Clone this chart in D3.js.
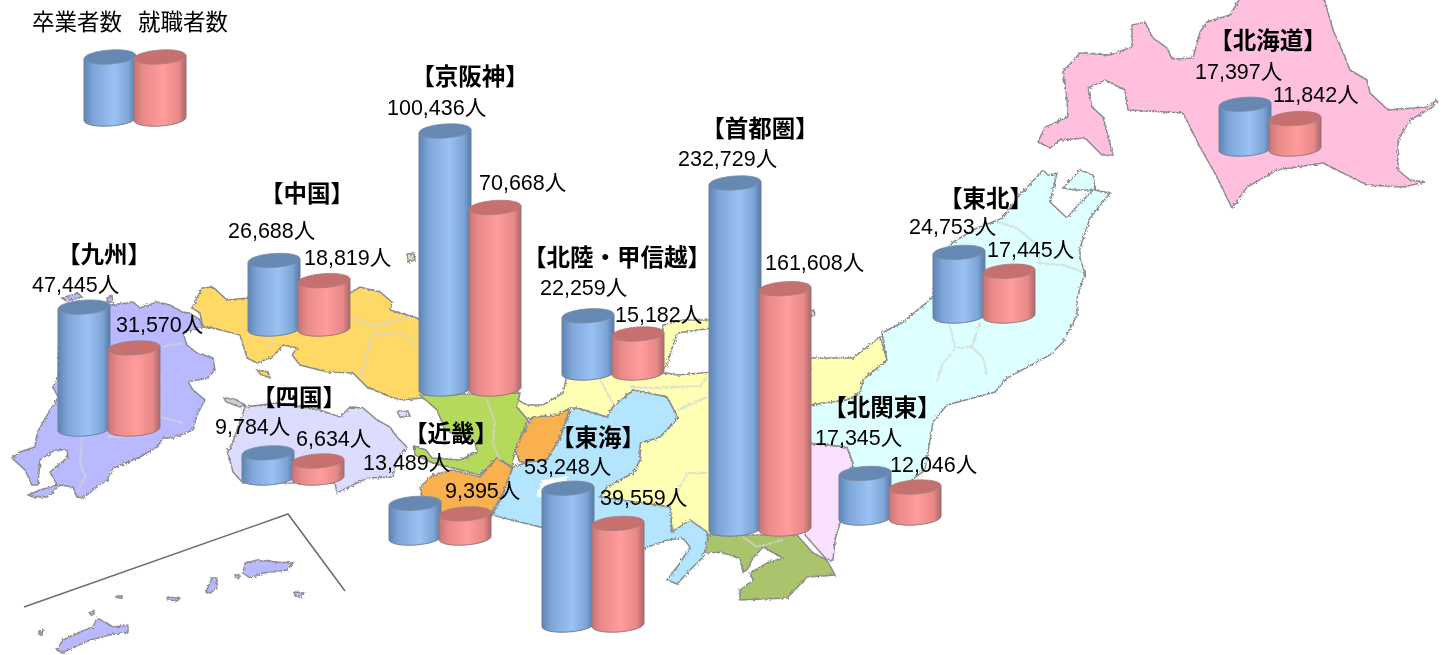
<!DOCTYPE html>
<html>
<head>
<meta charset="utf-8">
<script src="https://cdn.jsdelivr.net/npm/d3@7"></script>
<style>
  html, body { margin: 0; background: #fff; }
  text { font-family: "Noto Sans CJK JP", "Noto Sans", sans-serif; fill: #000; }
  text.num { font-family: "Liberation Sans", "Noto Sans CJK JP", sans-serif; }
</style>
</head>
<body>
<svg id="chart" width="1448" height="655"></svg>
<script>
// values
let regions = ['九州', '中国', '京阪神', '北陸・甲信越', '首都圏', '東海', '近畿', '四国', '北関東', '東北', '北海道']
let graduates = [47445, 26688, 100436, 22259, 232729, 53248, 13489, 9784, 17345, 24753, 17397]
let employed = [31570, 18819, 70668, 15182, 161608, 39559, 9395, 6634, 12046, 17445, 11842]
let seriesNames = ['卒業者数', '就職者数']

// layout, same order as regions: left edge and floor of each pair of cylinders
let pairX = [58, 248, 419, 562, 709, 542, 389, 242, 839, 933, 1219]
let pairFloor = [429, 329, 389, 373, 529, 625, 538, 478, 518, 316, 149]
let titleAt = [[104, 263], [307, 202], [470, 85], [617, 266], [760, 137], [598, 446], [451, 442], [299, 406], [882, 416], [986, 207], [1268, 49]]
let gradAt = [[32, 292], [228, 238], [387, 115], [540, 295], [678, 166], [524, 474], [363, 470], [215, 434], [815, 445], [909, 234], [1195, 79]]
let emplAt = [[116, 332], [304, 265], [479, 190], [615, 322], [765, 270], [600, 505], [445, 498], [296, 446], [890, 472], [987, 257], [1273, 102]]

// base map, hand traced
let land = [
  { fill: '#b9b9ff', pts: [[60,310],[110,305],[127,303],[133,302],[140,308],[157,302],[170,305],[182,312],[190,313],[200,320],[202,328],[183,333],[187,345],[197,353],[213,358],[215,370],[207,378],[188,382],[193,390],[205,400],[197,415],[193,430],[173,438],[163,438],[157,447],[140,457],[113,468],[107,480],[97,487],[83,498],[77,497],[73,487],[60,485],[47,497],[33,497],[28,495],[40,490],[57,485],[50,472],[68,457],[67,450],[55,450],[40,460],[38,485],[32,485],[25,470],[12,458],[20,452],[35,447],[37,433],[50,410],[55,403],[58,397],[53,387],[58,377]] },
  { fill: '#b9b9ff', pts: [[62,298],[78,293],[82,297],[67,301]] },
  { fill: '#b9b9ff', pts: [[107,298],[112,296],[113,302],[108,302]] },
  { fill: '#ffd966', pts: [[192,308],[202,288],[213,287],[227,300],[248,298],[350,293],[360,287],[380,292],[392,302],[390,310],[417,318],[430,330],[430,397],[403,400],[393,398],[367,387],[353,373],[327,372],[300,365],[292,355],[297,348],[283,345],[272,357],[257,363],[247,358],[243,345],[240,335],[213,328],[203,327],[200,313]] },
  { fill: '#ffd966', pts: [[257,370],[268,372],[270,378],[260,374]] },
  { fill: '#dcdcff', pts: [[230,450],[245,407],[277,403],[320,410],[340,417],[350,407],[363,408],[377,420],[390,427],[397,437],[407,447],[397,460],[393,477],[367,478],[343,490],[337,493],[335,483],[293,483],[243,483],[233,472],[227,450]] },
  { fill: '#dcdcff', pts: [[397,411],[408,411],[410,416],[400,417]] },
  { fill: '#cfcfcf', pts: [[224,398],[235,399],[245,405],[240,407],[226,402]] },
  { fill: '#d8d8c0', pts: [[407,254],[414,253],[415,260],[408,262]] },
  { fill: '#d8d8c0', pts: [[810,311],[814,310],[815,315],[811,316]] },
  { fill: '#b5d95a', pts: [[420,395],[520,393],[517,407],[528,420],[515,450],[512,467],[497,458],[480,475],[453,468],[433,463],[415,455],[414,446],[426,450],[432,458],[460,460],[477,452],[475,442],[445,430],[437,410]] },
  { fill: '#f9b04f', pts: [[420,487],[433,475],[453,470],[480,477],[497,458],[512,468],[503,493],[493,510],[490,520],[440,530],[425,510]] },
  { fill: '#f9b04f', pts: [[515,450],[523,433],[533,417],[557,415],[570,408],[560,437],[547,460],[520,462]] },
  { fill: '#ffffb3', pts: [[518,400],[527,405],[543,405],[563,393],[567,375],[667,373],[677,375],[712,372],[712,535],[672,532],[670,507],[600,497],[607,487],[633,473],[640,460],[640,443],[660,437],[678,418],[667,397],[633,390],[613,407],[607,417],[577,408],[570,408],[557,415],[533,417],[528,420],[517,407]] },
  { fill: '#ffffb3', pts: [[663,325],[683,320],[712,320],[712,328],[678,333],[673,345],[667,365],[660,372]] },
  { fill: '#b3e5ff', pts: [[492,515],[503,495],[513,467],[528,462],[547,460],[560,438],[570,412],[577,408],[607,417],[613,407],[633,390],[667,397],[678,418],[660,437],[640,443],[640,460],[633,473],[607,487],[600,497],[670,507],[672,532],[690,520],[707,532],[708,540],[703,557],[690,570],[677,584],[667,580],[680,563],[690,547],[683,538],[667,540],[645,548],[560,530],[540,527]] },
  { fill: '#ffffff', pts: [[536,497],[543,480],[568,476],[562,490],[545,498]] },
  { fill: '#ffffb3', pts: [[810,358],[853,358],[880,337],[887,360],[863,380],[860,393],[847,400],[810,405]] },
  { fill: '#f9e0ff', pts: [[805,443],[847,447],[853,463],[840,523],[835,540],[833,560],[827,560],[805,535]] },
  { fill: '#a9c46c', pts: [[708,535],[797,535],[813,553],[827,560],[835,575],[807,577],[793,592],[787,598],[740,600],[740,590],[753,580],[750,573],[767,563],[783,558],[763,547],[753,558],[747,570],[743,572],[740,558],[720,552],[705,553]] },
  { fill: '#ddffff', pts: [[1017,198],[1043,170],[1048,175],[1057,173],[1050,202],[1067,218],[1078,205],[1093,190],[1075,190],[1063,188],[1080,170],[1093,175],[1095,190],[1110,193],[1090,218],[1080,248],[1080,258],[1085,273],[1077,298],[1077,315],[1063,342],[1050,355],[1007,378],[995,392],[973,398],[947,405],[933,422],[925,470],[905,485],[888,492],[855,480],[853,463],[847,447],[808,443],[810,405],[847,400],[860,393],[863,380],[887,360],[882,333],[903,322],[932,298],[940,260],[953,242],[977,228],[1003,218]] },
  { fill: '#ffc0e0', pts: [[1038,142],[1045,127],[1068,117],[1067,100],[1063,72],[1080,53],[1110,55],[1132,47],[1132,25],[1145,22],[1153,38],[1167,48],[1172,59],[1193,58],[1200,32],[1207,22],[1230,15],[1242,-5],[1323,-5],[1333,30],[1345,57],[1350,70],[1367,80],[1370,93],[1388,110],[1427,107],[1437,100],[1433,107],[1410,120],[1398,140],[1398,170],[1410,180],[1425,182],[1403,187],[1367,185],[1323,163],[1277,170],[1247,187],[1232,208],[1217,177],[1200,147],[1183,113],[1128,110],[1125,90],[1105,80],[1088,88],[1092,107],[1103,117],[1113,155],[1102,155],[1085,138],[1060,140],[1050,148]] },
  // 沖縄・奄美
  { fill: '#b9b9ff', pts: [[245,563],[257,560],[277,562],[293,563],[287,570],[263,573],[250,578],[243,573]] },
  { fill: '#b9b9ff', pts: [[212,578],[217,578],[217,588],[210,593],[206,592]] },
  { fill: '#b9b9ff', pts: [[295,592],[305,593],[300,597],[295,596]] },
  { fill: '#b9b9ff', pts: [[167,597],[180,598],[177,601],[168,600]] },
  { fill: '#b9b9ff', pts: [[57,650],[63,640],[80,632],[93,627],[97,618],[105,622],[113,627],[128,625],[128,632],[110,635],[90,640],[68,650],[62,653]] },
  { fill: '#b9b9ff', pts: [[235,575],[239,575],[239,578],[235,578]] },
  { fill: '#b9b9ff', pts: [[117,596],[122,596],[122,598],[117,598]] },
  { fill: '#b9b9ff', pts: [[90,611],[94,611],[94,614],[90,614]] },
  { fill: '#b9b9ff', pts: [[39,631],[43,630],[42,635],[39,635]] }
]
let borders = [
  [[113,343],[160,347],[183,343]], [[160,373],[160,417],[183,423]], [[82,437],[80,463],[85,477],[78,492]], [[107,437],[133,437]],
  [[353,317],[373,327],[410,317]], [[373,333],[363,370],[360,377]], [[373,335],[403,333],[417,347]], [[273,338],[270,348]],
  [[487,400],[495,423],[493,443],[500,460]],
  [[600,380],[613,403]], [[630,387],[650,388],[700,386],[707,377]], [[678,410],[707,397]], [[670,507],[687,473],[707,473]],
  [[950,325],[955,348],[942,365],[937,382]], [[955,348],[972,347],[983,358],[987,375]], [[972,347],[980,322]],
  [[1037,263],[1063,265],[1083,272]], [[997,222],[1017,228],[1037,245],[1040,262]],
  [[743,537],[757,547],[783,540]]
]
let insetLine = [[24,607],[288,514],[345,591]]

let svg = d3.select('#chart')
let defs = svg.append('defs')

// coast looks rough in the original, so shake the map edges a bit
let rough = defs.append('filter').attr('id', 'rough')
  .attr('x', '-5%').attr('y', '-5%').attr('width', '110%').attr('height', '110%')
rough.append('feTurbulence').attr('type', 'fractalNoise').attr('baseFrequency', 0.4).attr('numOctaves', 2).attr('seed', 4).attr('result', 'n')
rough.append('feDisplacementMap').attr('in', 'SourceGraphic').attr('in2', 'n').attr('scale', 3.5).attr('result', 'd')
rough.append('feGaussianBlur').attr('in', 'd').attr('stdDeviation', 0.5)

let soft = defs.append('filter').attr('id', 'soft')
soft.append('feGaussianBlur').attr('stdDeviation', 0.45)

function sideGradient(id, stops) {
  let g = defs.append('linearGradient').attr('id', id)
  stops.forEach(s => g.append('stop').attr('offset', s[0]).attr('stop-color', s[1]))
}
sideGradient('sideBlue', [[0, '#5d84b4'], [0.18, '#7ea5d8'], [0.58, '#9ac2f3'], [0.86, '#7ca4d6'], [1, '#567aa7']])
sideGradient('sideRed', [[0, '#c97373'], [0.18, '#ea8a8a'], [0.55, '#ff9c9c'], [0.86, '#e98888'], [1, '#a96868']])

let line = d3.line()
let mapG = svg.append('g').attr('filter', 'url(#rough)')

mapG.selectAll('path.land')
  .data(land)
  .enter()
  .append('path')
  .attr('class', 'land')
  .attr('d', d => line(d.pts) + 'Z')
  .attr('fill', d => d.fill)
  .attr('stroke', d => d.fill == '#ffffff' ? 'none' : '#8c8c8c')
  .attr('stroke-width', 1.5)

mapG.selectAll('path.border')
  .data(borders)
  .enter()
  .append('path')
  .attr('class', 'border')
  .attr('d', line)
  .attr('fill', 'none')
  .attr('stroke', '#d4d4d4')
  .attr('stroke-width', 2)
  .attr('opacity', 0.7)

svg.append('path')
  .attr('d', line(insetLine))
  .attr('fill', 'none')
  .attr('stroke', '#6e6e6e')
  .attr('stroke-width', 1.6)

// heights: 首都圏 is drawn on its own shorter scale in the original
let yScale = d3.scaleLinear().domain([0, 100436]).range([0, 258])
let yScaleTokyo = d3.scaleLinear().domain([0, 232729]).range([0, 346])
let xBand = d3.scaleBand().domain(seriesNames).range([0, 100])

let barW = 52
let rx = barW / 2
let ry = 7
let tilt = -4
let dy = rx * Math.sin(-tilt * Math.PI / 180)

function cylinder(parent, cx, floor, h, kind) {
  let top = floor - h
  let g = parent.append('g')
  g.append('path')
    .attr('d', `M${cx - rx},${top + dy}L${cx - rx},${floor + dy}A${rx} ${ry} ${tilt} 0 0 ${cx + rx},${floor - dy}L${cx + rx},${top - dy}Z`)
    .attr('fill', kind == 0 ? 'url(#sideBlue)' : 'url(#sideRed)')
    .attr('stroke', kind == 0 ? '#6f8199' : '#97777a')
    .attr('stroke-width', 1)
  g.append('ellipse')
    .attr('transform', `translate(${cx},${top}) rotate(${tilt})`)
    .attr('rx', rx)
    .attr('ry', ry)
    .attr('fill', kind == 0 ? '#6689b3' : '#c76f70')
    .attr('stroke', kind == 0 ? '#7d8ea5' : '#a87f80')
    .attr('stroke-width', 0.8)
}

let barsG = svg.append('g').attr('filter', 'url(#soft)')

regions.forEach((name, i) => {
  let scale = name == '首都圏' ? yScaleTokyo : yScale
  cylinder(barsG, pairX[i] + xBand(seriesNames[0]) + rx, pairFloor[i], scale(graduates[i]), 0)
  cylinder(barsG, pairX[i] + xBand(seriesNames[1]) + rx, pairFloor[i], scale(employed[i]), 1)
})

// legend
cylinder(barsG, 84 + xBand(seriesNames[0]) + rx, 119, 62, 0)
cylinder(barsG, 84 + xBand(seriesNames[1]) + rx, 119, 62, 1)

svg.append('text')
  .attr('x', 32).attr('y', 30)
  .attr('font-size', 22.5)
  .attr('word-spacing', 11)
  .text(seriesNames.join(' '))

let fmt = d3.format(',')
let labelG = svg.append('g')

labelG.selectAll('text.title')
  .data(regions)
  .enter()
  .append('text')
  .attr('class', 'title')
  .attr('x', (d, i) => titleAt[i][0])
  .attr('y', (d, i) => titleAt[i][1])
  .attr('text-anchor', 'middle')
  .attr('font-size', 23.5)
  .attr('font-weight', 'bold')
  .text(d => `【${d}】`)

labelG.selectAll('text.grad')
  .data(graduates)
  .enter()
  .append('text')
  .attr('class', 'num')
  .attr('x', (d, i) => gradAt[i][0])
  .attr('y', (d, i) => gradAt[i][1])
  .attr('font-size', 21.5)
  .text(d => fmt(d) + '人')

labelG.selectAll('text.empl')
  .data(employed)
  .enter()
  .append('text')
  .attr('class', 'num')
  .attr('x', (d, i) => emplAt[i][0])
  .attr('y', (d, i) => emplAt[i][1])
  .attr('font-size', 21.5)
  .text(d => fmt(d) + '人')
</script>
</body>
</html>
